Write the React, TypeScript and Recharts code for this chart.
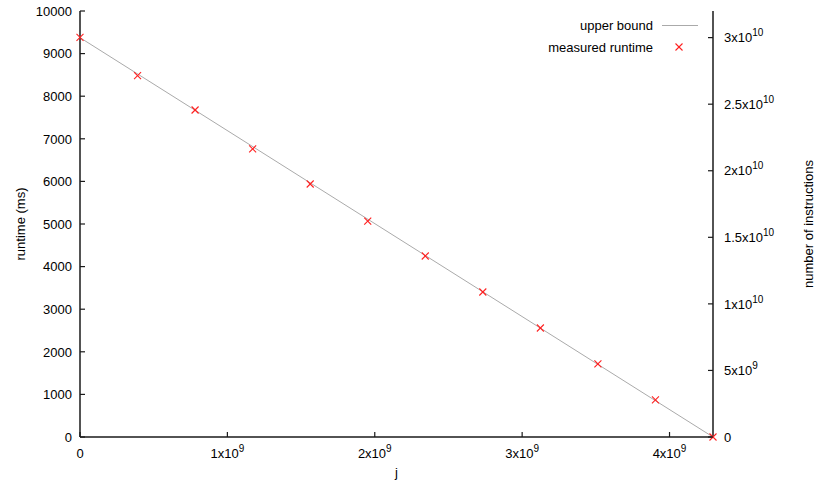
import { ComposedChart, Line, Scatter, XAxis, YAxis, Legend, Label } from 'recharts';

// measured points (j, runtime in ms)
const jValues = [
  0, 390451572, 780903145, 1171354717, 1561806289, 1952257862,
  2342709434, 2733161006, 3123612579, 3514064151, 3904515723, 4294967296,
];
const runtimeMs = [9383, 8481, 7676, 6761, 5939, 5070, 4249, 3404, 2559, 1714, 869, 0];

// upper bound (number of instructions, right axis)
const boundJ = [0, 4294967296];
const boundInstr = [3.0e10, 0];

const xTicks = [0, 1e9, 2e9, 3e9, 4e9];
const leftTicks = [0, 1000, 2000, 3000, 4000, 5000, 6000, 7000, 8000, 9000, 10000];
const rightTicks = [0, 5e9, 1e10, 1.5e10, 2e10, 2.5e10, 3e10];

const J_MAX = 4294967296;
const FONT = '"Liberation Sans", Arial, Helvetica, sans-serif';
const FS = 13;
const AXIS = '#1a1a1a';
const RED = '#ff2020';

const measured = jValues.map((j, i) => ({ j, runtime: runtimeMs[i] }));
const bound = boundJ.map((j, i) => ({ j, instr: boundInstr[i] }));

function sci(v: number): [string, string | null] {
  if (v === 0) return ['0', null];
  const exp = Math.floor(Math.log10(v) + 1e-9);
  const mant = Math.round((v / Math.pow(10, exp)) * 100) / 100;
  return [`${mant}x10`, String(exp)];
}

function SciText({ x, y, value, anchor }: { x: number; y: number; value: number; anchor: 'start' | 'middle' | 'end' }) {
  const [base, exp] = sci(value);
  return (
    <text x={x} y={y} textAnchor={anchor} fontFamily={FONT} fontSize={FS} fill="#000">
      {base}
      {exp && (
        <tspan dy={-6} fontSize={10}>{exp}</tspan>
      )}
    </text>
  );
}

const BottomTick = (props: any) => {
  const { x, y, payload } = props;
  return (
    <g>
      <line x1={x} y1={y} x2={x} y2={y - 5} stroke={AXIS} strokeWidth={1.2} />
      <SciText x={x} y={y + 20.5} value={payload.value} anchor="middle" />
    </g>
  );
};

const TopTick = (props: any) => {
  const { x, y } = props;
  return <line x1={x} y1={y} x2={x} y2={y + 5} stroke={AXIS} strokeWidth={1.2} />;
};

const LeftTick = (props: any) => {
  const { x, y, payload } = props;
  return (
    <g>
      <line x1={x + 8} y1={y} x2={x + 13} y2={y} stroke={AXIS} strokeWidth={1.2} />
      <text x={x} y={y + 4.7} textAnchor="end" fontFamily={FONT} fontSize={FS} fill="#000">
        {payload.value}
      </text>
    </g>
  );
};

const RightTick = (props: any) => {
  const { x, y, payload } = props;
  return (
    <g>
      <line x1={x - 11} y1={y} x2={x - 16} y2={y} stroke={AXIS} strokeWidth={1.2} />
      <SciText x={x} y={y + 4.7} value={payload.value} anchor="start" />
    </g>
  );
};

const Cross = (props: any) => {
  const { cx, cy } = props;
  if (cx == null || cy == null) return null;
  const r = 3.5;
  return (
    <g stroke={RED} strokeWidth={1.1}>
      <line x1={cx - r} y1={cy - r} x2={cx + r} y2={cy + r} />
      <line x1={cx - r} y1={cy + r} x2={cx + r} y2={cy - r} />
    </g>
  );
};

const KeyBox = () => (
  <svg width={815} height={60} style={{ display: 'block' }}>
    <text x={653} y={30} textAnchor="end" fontFamily={FONT} fontSize={FS} fill="#000">upper bound</text>
    <line x1={662} y1={25.5} x2={698} y2={25.5} stroke="#aaaaaa" strokeWidth={1} />
    <text x={653} y={52} textAnchor="end" fontFamily={FONT} fontSize={FS} fill="#000">measured runtime</text>
    <Cross cx={679} cy={47} />
  </svg>
);

const rotatedLabel = (text: string, dx: number) => (props: any) => {
  const vb = props.viewBox;
  const cx = vb.x + dx;
  const cy = vb.y + vb.height / 2;
  return (
    <text x={cx} y={cy} transform={`rotate(-90 ${cx} ${cy})`} textAnchor="middle"
      fontFamily={FONT} fontSize={FS} fill="#000">
      {text}
    </text>
  );
};

export default function App() {
  return (
    <div style={{ position: 'absolute', left: 0, top: 0, background: '#fff' }}>
      <ComposedChart width={815} height={480} margin={{ top: 11, right: 0, bottom: 0, left: 0 }}>
        <XAxis
          xAxisId="bottom" dataKey="j" type="number" domain={[0, J_MAX]} ticks={xTicks}
          height={43} tickSize={0} tickMargin={0} tickLine={false}
          axisLine={{ stroke: AXIS, strokeWidth: 1.5 }} tick={BottomTick} interval={0}
        >
          <Label content={(p: any) => (
            <text x={p.viewBox.x + p.viewBox.width / 2} y={p.viewBox.y + 40} textAnchor="middle"
              fontFamily={FONT} fontSize={FS} fill="#000">j</text>
          )} />
        </XAxis>
        <XAxis
          xAxisId="top" orientation="top" dataKey="j" type="number" domain={[0, J_MAX]} ticks={xTicks}
          height={0} tickSize={0} tickMargin={0} tickLine={false}
          axisLine={{ stroke: AXIS, strokeWidth: 1.5 }} tick={TopTick} interval={0}
        />
        <YAxis
          yAxisId="left" type="number" domain={[0, 10000]} ticks={leftTicks} width={80}
          tickSize={0} tickMargin={8} tickLine={false} interval={0}
          axisLine={{ stroke: AXIS, strokeWidth: 1.5 }} tick={LeftTick}
        >
          <Label content={rotatedLabel('runtime (ms)', 25)} />
        </YAxis>
        <YAxis
          yAxisId="right" orientation="right" type="number" domain={[0, 3.2e10]} ticks={rightTicks}
          width={102} tickSize={0} tickMargin={11} tickLine={false} interval={0}
          axisLine={{ stroke: AXIS, strokeWidth: 1.5 }} tick={RightTick}
        >
          <Label content={rotatedLabel('number of instructions', 100)} />
        </YAxis>
        <Line
          xAxisId="bottom" yAxisId="right" data={bound} dataKey="instr" type="linear"
          stroke="#aaaaaa" strokeWidth={1} dot={false} activeDot={false} isAnimationActive={false}
        />
        <Scatter
          xAxisId="bottom" yAxisId="left" data={measured} dataKey="runtime"
          shape={Cross} isAnimationActive={false}
        />
        <Legend
          layout="horizontal" verticalAlign="middle" align="center"
          wrapperStyle={{ left: 0, top: 0, width: 815, height: 60 }}
          content={() => <KeyBox />}
        />
      </ComposedChart>
    </div>
  );
}
